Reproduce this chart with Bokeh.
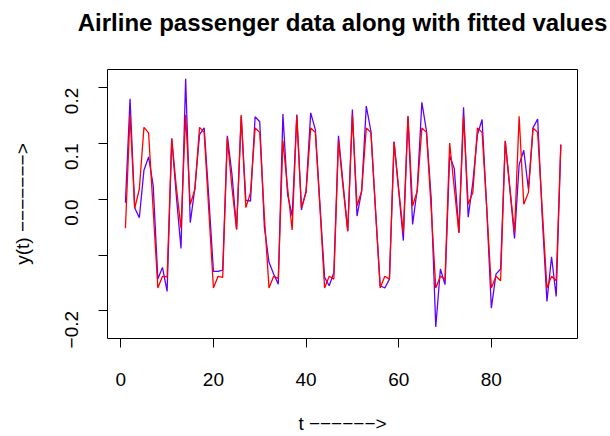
import math
from bokeh.plotting import figure
from bokeh.models import Range1d, FixedTicker, Title
from bokeh.embed import file_html
from bokeh.resources import INLINE

t = list(range(1, 96))

observed = [
    -0.006, 0.180, -0.015, -0.033, 0.052, 0.076, 0.024, -0.143, -0.122, -0.165,
    0.109, 0.005, -0.088, 0.216, -0.042, 0.021, 0.116, 0.128, 0.003, -0.129,
    -0.129, -0.127, 0.114, 0.045, -0.054, 0.149, -0.002, -0.003, 0.148, 0.139,
    -0.050, -0.113, -0.134, -0.152, 0.153, 0.009, -0.030, 0.152, -0.019, 0.015,
    0.155, 0.125, -0.010, -0.140, -0.155, -0.131, 0.114, 0.027, -0.057, 0.161,
    -0.030, 0.015, 0.167, 0.122, -0.020, -0.155, -0.159, -0.143, 0.103, 0.015,
    -0.074, 0.149, -0.045, 0.018, 0.174, 0.122, 0.003, -0.229, -0.125, -0.153,
    0.078, 0.055, -0.060, 0.165, -0.032, 0.030, 0.116, 0.143, -0.015, -0.195,
    -0.134, -0.125, 0.104, 0.018, -0.070, 0.062, 0.088, 0.018, 0.128, 0.144,
    -0.033, -0.183, -0.103, -0.174, 0.098,
]

fitted = [
    -0.052, 0.152, -0.016, 0.018, 0.129, 0.119, -0.020, -0.159, -0.138, -0.139,
    0.109, 0.021, -0.052, 0.151, -0.009, 0.018, 0.129, 0.120, -0.020, -0.159,
    -0.138, -0.140, 0.110, 0.021, -0.054, 0.151, -0.015, 0.012, 0.128, 0.120,
    -0.031, -0.159, -0.138, -0.142, 0.105, 0.021, -0.055, 0.150, -0.015, 0.012,
    0.128, 0.120, -0.015, -0.159, -0.138, -0.143, 0.105, 0.021, -0.057, 0.151,
    -0.012, 0.015, 0.128, 0.120, -0.020, -0.159, -0.138, -0.143, 0.103, 0.018,
    -0.060, 0.149, -0.012, 0.015, 0.128, 0.120, -0.015, -0.159, -0.138, -0.143,
    0.101, 0.020, -0.060, 0.149, -0.009, 0.012, 0.128, 0.120, -0.015, -0.159,
    -0.138, -0.146, 0.105, 0.021, -0.060, 0.149, -0.009, 0.012, 0.128, 0.120,
    -0.020, -0.159, -0.138, -0.146, 0.098,
]

x_ticks = [0, 20, 40, 60, 80]
y_ticks = [-0.2, -0.1, 0.0, 0.1, 0.2]
y_tick_labels = {-0.2: "\u22120.2", -0.1: "", 0.0: "0.0", 0.1: "0.1", 0.2: "0.2"}

TITLE = "Airline passenger data along with fitted values"
M = "\u2212"
X_LABEL = "t " + M * 6 + ">"
Y_LABEL = "y(t) " + M * 7 + ">"

FONT = "Liberation Sans"

p = figure(
    width=610, height=436,
    output_backend="svg", toolbar_location=None,
    min_border_left=107, min_border_right=33,
    min_border_top=69, min_border_bottom=97,
    x_range=Range1d(-2.87, 98.6), y_range=Range1d(-0.2495, 0.2327),
    title=TITLE,
)

# spacer between the title and the frame (title is placed outermost)
p.add_layout(Title(text=" ", text_font_size="1px", standoff=29), "above")

p.title.text_font = FONT
p.title.text_font_size = "24px"
p.title.text_font_style = "bold"
p.title.align = "center"
p.title.vertical_align = "top"
p.title.standoff = 0
p.title.text_color = "black"

p.grid.visible = False
p.outline_line_color = "black"
p.outline_line_width = 1
p.background_fill_color = "white"
p.border_fill_color = "white"

for ax in (p.xaxis[0], p.yaxis[0]):
    ax.axis_line_color = None
    ax.major_tick_line_color = "black"
    ax.major_tick_in = 0
    ax.major_tick_out = 9
    ax.minor_tick_line_color = None
    ax.major_label_text_font = FONT
    ax.major_label_text_font_size = "19px"
    ax.major_label_text_color = "black"
    ax.axis_label_text_font = FONT
    ax.axis_label_text_font_size = "19px"
    ax.axis_label_text_font_style = "normal"
    ax.axis_label_text_color = "black"

p.xaxis.ticker = FixedTicker(ticks=x_ticks)
p.yaxis.ticker = FixedTicker(ticks=y_ticks)
p.yaxis.major_label_overrides = y_tick_labels
p.yaxis.major_label_orientation = math.pi / 2

p.xaxis.axis_label = X_LABEL
p.yaxis.axis_label = Y_LABEL
p.xaxis.major_label_standoff = 25
p.xaxis.axis_label_standoff = 24
p.yaxis.major_label_standoff = 27
p.yaxis.axis_label_standoff = 23

p.line(t, observed, line_color="#5f00ff", line_width=1.3)
p.line(t, fitted, line_color="red", line_width=1.3)

open("out.html", "w").write(file_html(p, INLINE))
